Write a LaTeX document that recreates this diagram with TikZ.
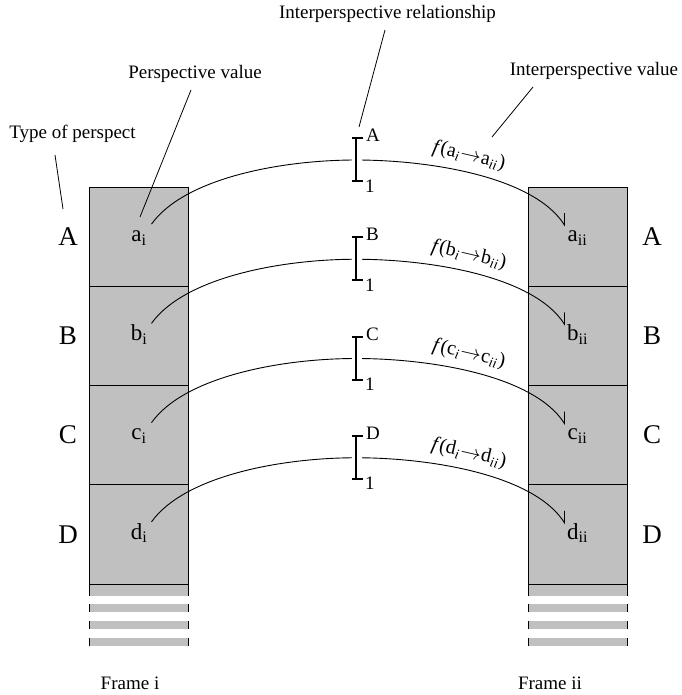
\documentclass[tikz,border=0pt]{standalone}
\usepackage{fontspec}
\setmainfont{Liberation Serif}
\usetikzlibrary{calc}
\definecolor{cellgray}{RGB}{192,192,192}
\tikzset{
  cell/.style={draw=black, fill=cellgray, line width=0.8pt, minimum width=99pt, minimum height=99.25pt, inner sep=0pt, outer sep=0pt},
  lab/.style={font=\fontsize{19}{22}\selectfont, inner sep=0pt},
  flab/.style={font=\fontsize{20}{23}\selectfont, inner sep=0pt},
  big/.style={font=\fontsize{27}{30}\selectfont, inner sep=0pt},
  val/.style={font=\fontsize{23}{26}\selectfont, inner sep=0pt, anchor=base},
  leader/.style={line width=0.8pt},
  arcline/.style={line width=0.9pt},
  barline/.style={line width=2pt},
  gapline/.style={white, line width=10pt},
}
\begin{document}
\begin{tikzpicture}[x=1pt,y=-1pt]
\useasboundingbox (0,0) rectangle (681,695);

% bottom continuation of both frames
\foreach \x in {89,528}{
  \fill[cellgray] (\x,584) rectangle ++(99,12);
  \draw[line width=0.8pt] (\x,596) -- (\x,584) -- ++(99,0) -- ++(0,12);
  \foreach \ya/\yb in {604/612,621/629,638/646}{
    \fill[cellgray] (\x,\ya) rectangle (\x+99,\yb);
    \draw[line width=0.8pt] (\x,\ya) -- (\x,\yb);
    \draw[line width=0.8pt] (\x+99,\ya) -- (\x+99,\yb);
  }
}

\foreach \L/\l [count=\i from 0] in {A/a,B/b,C/c,D/d}{
  \pgfmathsetmacro{\yc}{236.6+99.25*\i}
  \node[cell] (L\L) at (138.5,\yc) {};
  \node[cell] (R\L) at (577.5,\yc) {};
  \node[big] (tl\L) at (68,\yc) {\L};
  \node[big] (tr\L) at (652,\yc) {\L};
  \node[val] (v\l i) at (139,\yc+4.8) {\l\textsubscript{i}};
  \node[val] (v\l ii) at (577.5,\yc+4.8) {\l\textsubscript{ii}};
  % connector
  \coordinate (s\L) at (151.5,\yc-12.5);
  \coordinate (p\L) at (356,\yc-76.6);
  \coordinate (e\L) at (564.5,\yc-11.5);
  \draw[arcline] (s\L) .. controls ($(s\L)+(33,-46)$) and ($(p\L)+(-75,0)$) .. (p\L)
     .. controls ($(p\L)+(75,0)$) and ($(e\L)+(-30,-48)$) .. (e\L) -- ++(0,-12);
  % interval bar
  \coordinate (bt\L) at (356,\yc-98.6);
  \coordinate (bb\L) at (356,\yc-55.6);
  \draw[gapline] ($(p\L)+(1,-3)$) -- ($(p\L)+(1,3)$);
  \draw[barline] (bt\L) -- (bb\L);
  \draw[barline] ($(bt\L)+(-4.5,0)$) -- ($(bt\L)+(7,0)$);
  \draw[barline] ($(bb\L)+(-4.5,0)$) -- ($(bb\L)+(7,0)$);
  \node[lab, anchor=base west] (bl\L) at (366,\yc-95) {\L};
  \node[lab, anchor=base west] (bo\L) at (365,\yc-44.6) {1};
  % function label
  \node[flab, rotate=-13] (f\L) at (469,\yc-81) {\textit{f}(\l\textsubscript{\textit{i}}\kern0.5pt$\rightarrow$\kern0.5pt\l\textsubscript{\textit{ii}}\kern0.5pt)};
}

% annotation labels
\node[lab, anchor=base] (typ) at (72.5,139) {Type of perspect};
\node[lab, anchor=base] (pv) at (195,79) {Perspective value};
\node[lab, anchor=base] (ir) at (387.5,19) {Interperspective relationship};
\node[lab, anchor=base] (iv) at (594,76) {Interperspective value};

\coordinate (typ1) at (55,155);   \coordinate (typ2) at (63,209);
\coordinate (pv1) at (191,90);    \coordinate (pv2) at (140,217);
\coordinate (ir1) at (385,30);    \coordinate (ir2) at (359,127);
\coordinate (iv1) at (533,87);    \coordinate (iv2) at (492,137);
\draw[leader] (typ1) -- (typ2);
\draw[leader] (pv1) -- (pv2);
\draw[leader] (ir1) -- (ir2);
\draw[leader] (iv1) -- (iv2);

% frame labels
\node[lab, anchor=base] (fi) at (130,689) {Frame i};
\node[lab, anchor=base] (fii) at (550,689) {Frame ii};
\end{tikzpicture}
\end{document}
